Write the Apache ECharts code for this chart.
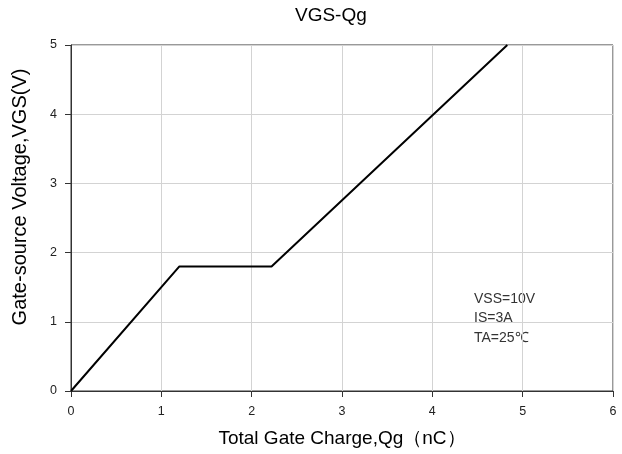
<!DOCTYPE html>
<html>
<head>
<meta charset="utf-8">
<script src="https://cdn.jsdelivr.net/npm/echarts@6/dist/echarts.min.js"></script>
<style>html,body{margin:0;padding:0;background:#fff}#c{width:622px;height:454px}</style>
</head>
<body>
<div id="c"></div>
<script>
var qg = [0, 1.2, 2.22, 4.83];
var vgs = [0, 1.8, 1.8, 5];
var xTicks = [0, 1, 2, 3, 4, 5, 6];
var yTicks = [0, 1, 2, 3, 4, 5];
var notes = ['VSS=10V', 'IS=3A', 'TA=25℃'];

var chart = echarts.init(document.getElementById('c'));
var font = 'Arial, "Liberation Sans", sans-serif';
chart.setOption({
  animation: false,
  title: {
    text: 'VGS-Qg', left: 290, top: 1,
    textStyle: {fontFamily: font, fontSize: 19, fontWeight: 'normal', color: '#000'}
  },
  grid: {left: 71, right: 9, top: 45, bottom: 63, containLabel: false, outerBoundsMode: 'none',
    show: true, borderColor: '#333', borderWidth: 1},
  xAxis: {
    type: 'value', min: xTicks[0], max: xTicks[xTicks.length - 1], interval: 1,
    name: 'Total Gate Charge,Qg（nC）', nameLocation: 'middle', nameGap: 38,
    nameTextStyle: {fontFamily: font, fontSize: 19, color: '#000'},
    axisLine: {show: true, lineStyle: {color: '#333', width: 1}},
    axisTick: {show: true, length: 6, lineStyle: {color: '#333'}},
    axisLabel: {fontFamily: font, fontSize: 12.5, color: '#222', margin: 14},
    splitLine: {show: true, lineStyle: {color: '#d3d3d3', width: 1}}
  },
  yAxis: {
    type: 'value', min: yTicks[0], max: yTicks[yTicks.length - 1], interval: 1,
    axisLine: {show: true, lineStyle: {color: '#333', width: 1}},
    axisTick: {show: true, length: 6, lineStyle: {color: '#333'}},
    axisLabel: {fontFamily: font, fontSize: 12.5, color: '#222', margin: 14},
    splitLine: {show: true, lineStyle: {color: '#d3d3d3', width: 1}}
  },
  graphic: [{
    type: 'text', x: 20, y: 197, rotation: Math.PI / 2,
    style: {text: 'Gate-source Voltage,VGS(V)', fontFamily: font, fontSize: 20, fill: '#000', align: 'center', verticalAlign: 'middle'}
  }, {
    type: 'text', left: 474, top: 289,
    style: {text: notes.join('\n'), fontFamily: font, fontSize: 14, lineHeight: 19.5, fill: '#333'}
  }],
  series: [{
    type: 'line', showSymbol: false, symbol: 'none',
    data: qg.map(function (x, i) { return [x, vgs[i]]; }),
    lineStyle: {color: '#000', width: 2}
  }]
});
</script>
</body>
</html>
